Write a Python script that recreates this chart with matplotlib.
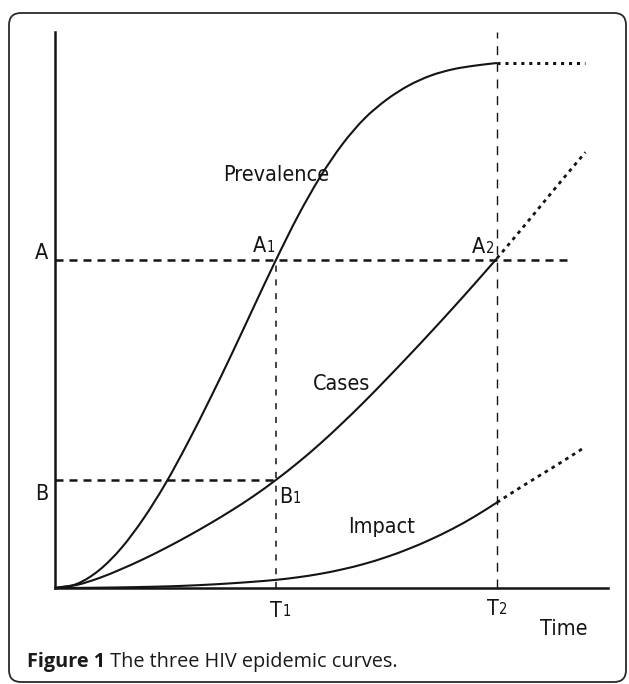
import matplotlib
matplotlib.use('Agg')
import matplotlib.pyplot as plt
from matplotlib.patches import FancyBboxPatch, PathPatch
from matplotlib.path import Path
from matplotlib.transforms import IdentityTransform, offset_copy

# ── Data (time units with T1 = 10, T2 = 20) ──────────────────────────────────
T1, T2     = 10, 20
A_LEVEL    = 62.5
B_LEVEL    = 20.6
PLATEAU    = 100
T_END      = 24      # end of the dotted projections

TIME = [0, 1, 2, 3, 4, 5, 6, 7, 8, 9, 10,
        11, 12, 13, 14, 15, 16, 17, 18, 19, 20]
PREVALENCE = [0, 0.8, 3.4, 7.6, 13.2, 19.9, 27.6, 35.9, 44.6, 53.6, 62.5,
              70.9, 78.3, 84.5, 89.4, 93.0, 95.7, 97.6, 98.8, 99.5, 100]
CASES = [0, 0.6, 1.9, 3.6, 5.5, 7.6, 9.85, 12.25, 14.8, 17.55, 20.6,
         23.9, 27.5, 31.4, 35.5, 39.8, 44.2, 48.7, 53.3, 58.0, 62.8]
IMPACT = [0, 0.02, 0.06, 0.12, 0.2, 0.3, 0.45, 0.65, 0.9, 1.2, 1.55,
          2.05, 2.7, 3.55, 4.6, 5.9, 7.45, 9.25, 11.3, 13.65, 16.3]

PROJ_TIME   = [20, 21, 22, 23, 24]
CASES_PROJ  = [62.8, 67.8, 72.9, 78.0, 83.0]
IMPACT_PROJ = [16.3, 19.0, 21.6, 24.2, 26.9]

A_LINE_END = 23.4
X_MAX, Y_MAX = 25, 106

W, H = 629, 684
INK  = '#141414'
LABEL_FONT = dict(family=['DejaVu Sans'], stretch='condensed')
CAP_FONT   = ['Open Sans', 'DejaVu Sans']


def smooth_path(xs, ys):
    """Cubic Hermite through the read points, as a bezier Path."""
    n = len(xs)
    d = []
    for i in range(n):
        if i == 0:
            d.append((ys[1] - ys[0]) / (xs[1] - xs[0]))
        elif i == n - 1:
            d.append((ys[-1] - ys[-2]) / (xs[-1] - xs[-2]))
        else:
            h0, h1 = xs[i] - xs[i - 1], xs[i + 1] - xs[i]
            s0, s1 = (ys[i] - ys[i - 1]) / h0, (ys[i + 1] - ys[i]) / h1
            d.append((s1 * h0 + s0 * h1) / (h0 + h1))
    verts, codes = [(xs[0], ys[0])], [Path.MOVETO]
    for i in range(n - 1):
        h = xs[i + 1] - xs[i]
        verts += [(xs[i] + h / 3, ys[i] + d[i] * h / 3),
                  (xs[i + 1] - h / 3, ys[i + 1] - d[i + 1] * h / 3),
                  (xs[i + 1], ys[i + 1])]
        codes += [Path.CURVE4] * 3
    return Path(verts, codes)


def draw_curve(ax, xs, ys, **kw):
    ax.add_patch(PathPatch(smooth_path(xs, ys), fill=False, edgecolor=INK,
                           clip_on=False, **kw))


fig = plt.figure(figsize=(W / 100, H / 100), dpi=100)
ax  = fig.add_axes([55 / W, (H - 588) / H, 552.5 / W, Y_MAX * 5.25 / H])
ax.set_xlim(0, X_MAX)
ax.set_ylim(0, Y_MAX)
ax.set_xticks([])
ax.set_yticks([])
ax.spines[['top', 'right']].set_visible(False)
for s in ('left', 'bottom'):
    ax.spines[s].set_linewidth(1.8)
    ax.spines[s].set_color(INK)

# ── Curves ────────────────────────────────────────────────────────────────────
draw_curve(ax, TIME, PREVALENCE, lw=1.5)
draw_curve(ax, TIME, CASES, lw=1.5)
draw_curve(ax, TIME, IMPACT, lw=1.5)

# projections (dotted)
ax.plot([T2, T_END], [PLATEAU, PLATEAU], color=INK, lw=2.2,
        linestyle=(0, (1.0, 1.6)), clip_on=False)
draw_curve(ax, PROJ_TIME, CASES_PROJ, lw=2.0, linestyle=(0, (1.3, 1.6)))
draw_curve(ax, PROJ_TIME, IMPACT_PROJ, lw=2.0, linestyle=(0, (1.3, 1.6)))

# ── Reference lines ──────────────────────────────────────────────────────────
hdash = (0, (3.2, 2.4))
ax.plot([0, A_LINE_END], [A_LEVEL, A_LEVEL], color=INK, lw=1.8, linestyle=hdash)
ax.plot([0, T1], [B_LEVEL, B_LEVEL], color=INK, lw=1.8, linestyle=hdash)
ax.plot([T1, T1], [0, A_LEVEL], color=INK, lw=1.1, linestyle=(0, (4, 5)))
ax.plot([T2, T2], [0, Y_MAX], color=INK, lw=1.0, linestyle=(0, (6.5, 5.5)),
        clip_on=False)

# ── Labels ────────────────────────────────────────────────────────────────────
FS, FS_SUB = 15.5, 10.5
txt_kw = dict(fontsize=FS, color=INK, va='baseline', clip_on=False, **LABEL_FONT)

def label(x, y, main, sub=None, ha='left'):
    t = ax.text(x, y, main, ha=ha, **txt_kw)
    if sub:
        ax.annotate(sub, xy=(1, 0), xycoords=t, xytext=(0.3, 1.0),
                    textcoords='offset points', fontsize=FS_SUB, color=INK,
                    va='bottom', ha='left', **LABEL_FONT)
    return t

label(-0.59, 62.7, 'A', ha='center')
label(-0.59, 16.8, 'B', ha='center')
label(8.96, 64.0, 'A', '1')
label(18.87, 63.8, 'A', '2')
label(10.14, 16.2, 'B', '1')
label(9.73, -5.5, 'T', '1')
label(19.55, -5.1, 'T', '2')
label(21.95, -9.0, 'Time')
label(7.6, 77.5, 'Prevalence')
label(11.67, 37.7, 'Cases')
label(13.26, 10.5, 'Impact')

# ── Frame and caption ────────────────────────────────────────────────────────
frame = FancyBboxPatch((9, 2), 617, 669, boxstyle='round,pad=0,rounding_size=12',
                       transform=IdentityTransform(), fill=False,
                       edgecolor='#2a2a2a', lw=1.3)
fig.add_artist(frame)

cap = fig.text(27 / W, 1 - 667 / H, 'Figure 1', fontsize=14.3, fontweight='bold',
               family=CAP_FONT, color='#1a1a1a', va='baseline')
fig.canvas.draw()
fig.text(0, 0, ' The three HIV epidemic curves.', fontsize=14.3,
         family=CAP_FONT, color='#1a1a1a', va='baseline',
         transform=offset_copy(fig.transFigure, fig=fig,
                               x=cap.get_window_extent().x1 / 100 * 72,
                               y=(H - 667) / 100 * 72, units='points'))

fig.savefig('out.png', dpi=100)
